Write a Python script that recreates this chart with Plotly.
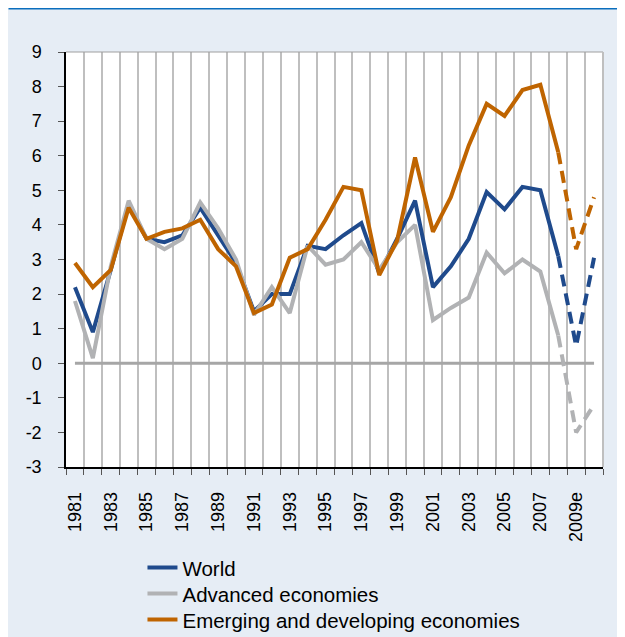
import plotly.graph_objects as go

# ---------------- data ----------------
years = list(range(1981, 2011))
world = [2.2, 0.9, 2.7, 4.6, 3.6, 3.5, 3.7, 4.5, 3.7, 2.9,
         1.5, 2.0, 2.0, 3.4, 3.3, 3.7, 4.05, 2.6, 3.6, 4.7,
         2.2, 2.8, 3.6, 4.95, 4.45, 5.1, 5.0, 3.1, 0.5, 3.05]
advanced = [1.8, 0.15, 2.8, 4.7, 3.6, 3.3, 3.6, 4.65, 3.9, 3.0,
            1.4, 2.2, 1.45, 3.4, 2.85, 3.0, 3.5, 2.7, 3.5, 4.0,
            1.25, 1.6, 1.9, 3.2, 2.6, 3.0, 2.65, 0.8, -2.0, -1.2]
emerging = [2.9, 2.2, 2.7, 4.5, 3.6, 3.8, 3.9, 4.15, 3.3, 2.8,
            1.45, 1.7, 3.05, 3.3, 4.15, 5.1, 5.0, 2.55, 3.55, 5.95,
            3.8, 4.8, 6.3, 7.5, 7.15, 7.9, 8.05, 6.1, 3.3, 4.8]
tick_years = list(range(1981, 2010, 2))
tick_labels = [str(y) for y in tick_years[:-1]] + ["2009e"]
y_ticks = list(range(-3, 10))
y_tick_labels = [str(v) for v in y_ticks]  # plain hyphen minus like the original
estimate_from = 2008  # last actual year; dashed afterwards

series = [
    ("World", world, "#1F4A8C"),
    ("Advanced economies", advanced, "#B1B2B4"),
    ("Emerging and developing economies", emerging, "#BF6400"),
]

# ---------------- layout geometry (figure sits at 8px page offset) ----------------
W, H = 617, 629
ML, MR, MT, MB = 57.5, 22.3, 44.3, 169.7
PW, PH = W - ML - MR, H - MT - MB


def px_x(p):
    return (p - ML) / PW


def px_y(p):
    return (H - MB - p) / PH


fig = go.Figure()

# zero reference line
fig.add_trace(go.Scatter(x=years, y=[0] * len(years), mode="lines",
                         line=dict(color="#A6A6A6", width=3),
                         showlegend=False, hoverinfo="skip"))

legend_ids = ["legend", "legend2", "legend3"]
cut = years.index(estimate_from)
for (name, vals, col), lg in zip(series, legend_ids):
    fig.add_trace(go.Scatter(x=years[:cut + 1], y=vals[:cut + 1], mode="lines",
                             name=name, line=dict(color=col, width=4),
                             legend=lg))
for name, vals, col in series:
    fig.add_trace(go.Scatter(x=years[cut:], y=vals[cut:], mode="lines",
                             name=name, line=dict(color=col, width=4, dash="12px,7px"),
                             showlegend=False))

shapes = [
    # blue rule at the top
    dict(type="line", xref="paper", yref="paper", x0=px_x(0), x1=px_x(W),
         y0=px_y(0.8), y1=px_y(0.8), line=dict(color="#0A6EBD", width=2)),
    # thin grey top border of the plot
    dict(type="line", xref="paper", yref="paper", x0=0, x1=1, y0=1, y1=1,
         line=dict(color="#A0A0A0", width=1.2)),
    # right border grey
    dict(type="line", xref="paper", yref="paper", x0=1, x1=1, y0=0, y1=1,
         line=dict(color="#BFBFBF", width=2)),
]

legend_centers = [560, 586, 612]  # figure px
legend_common = dict(x=px_x(134), xanchor="left", yanchor="middle",
                     bgcolor="rgba(0,0,0,0)", font=dict(size=20.5), itemwidth=30)

fig.update_layout(
    width=W, height=H,
    margin=dict(l=ML, r=MR, t=MT, b=MB, autoexpand=False),
    paper_bgcolor="#E6EDF5",
    plot_bgcolor="white",
    font=dict(family="Liberation Sans, Arial, sans-serif", size=18, color="black"),
    shapes=shapes,
    showlegend=True,
    legend=dict(y=px_y(legend_centers[0]), **legend_common),
    legend2=dict(y=px_y(legend_centers[1]), **legend_common),
    legend3=dict(y=px_y(legend_centers[2]), **legend_common),
)

fig.update_xaxes(
    range=[1980.5, 2010.5],
    tickmode="array", tickvals=tick_years, ticktext=tick_labels,
    tickangle=-90, ticks="", showgrid=False, zeroline=False,
    showline=True, linecolor="black", linewidth=1.5,
    ticklabelstandoff=16,
    tickfont=dict(size=18),
    minor=dict(tick0=1980.5, dtick=1, showgrid=True, gridcolor="#BFBFBF",
               gridwidth=2, ticks="outside", ticklen=6, tickcolor="#555555",
               tickwidth=1),
)
fig.update_yaxes(
    range=[-3, 9], tickmode="array", tickvals=y_ticks, ticktext=y_tick_labels,
    showgrid=False, zeroline=False,
    showline=True, linecolor="black", linewidth=1.5,
    ticks="outside", ticklen=6, tickcolor="#555555", tickwidth=1,
    ticklabelstandoff=13, tickfont=dict(size=18),
)

fig.write_html("out.html")
